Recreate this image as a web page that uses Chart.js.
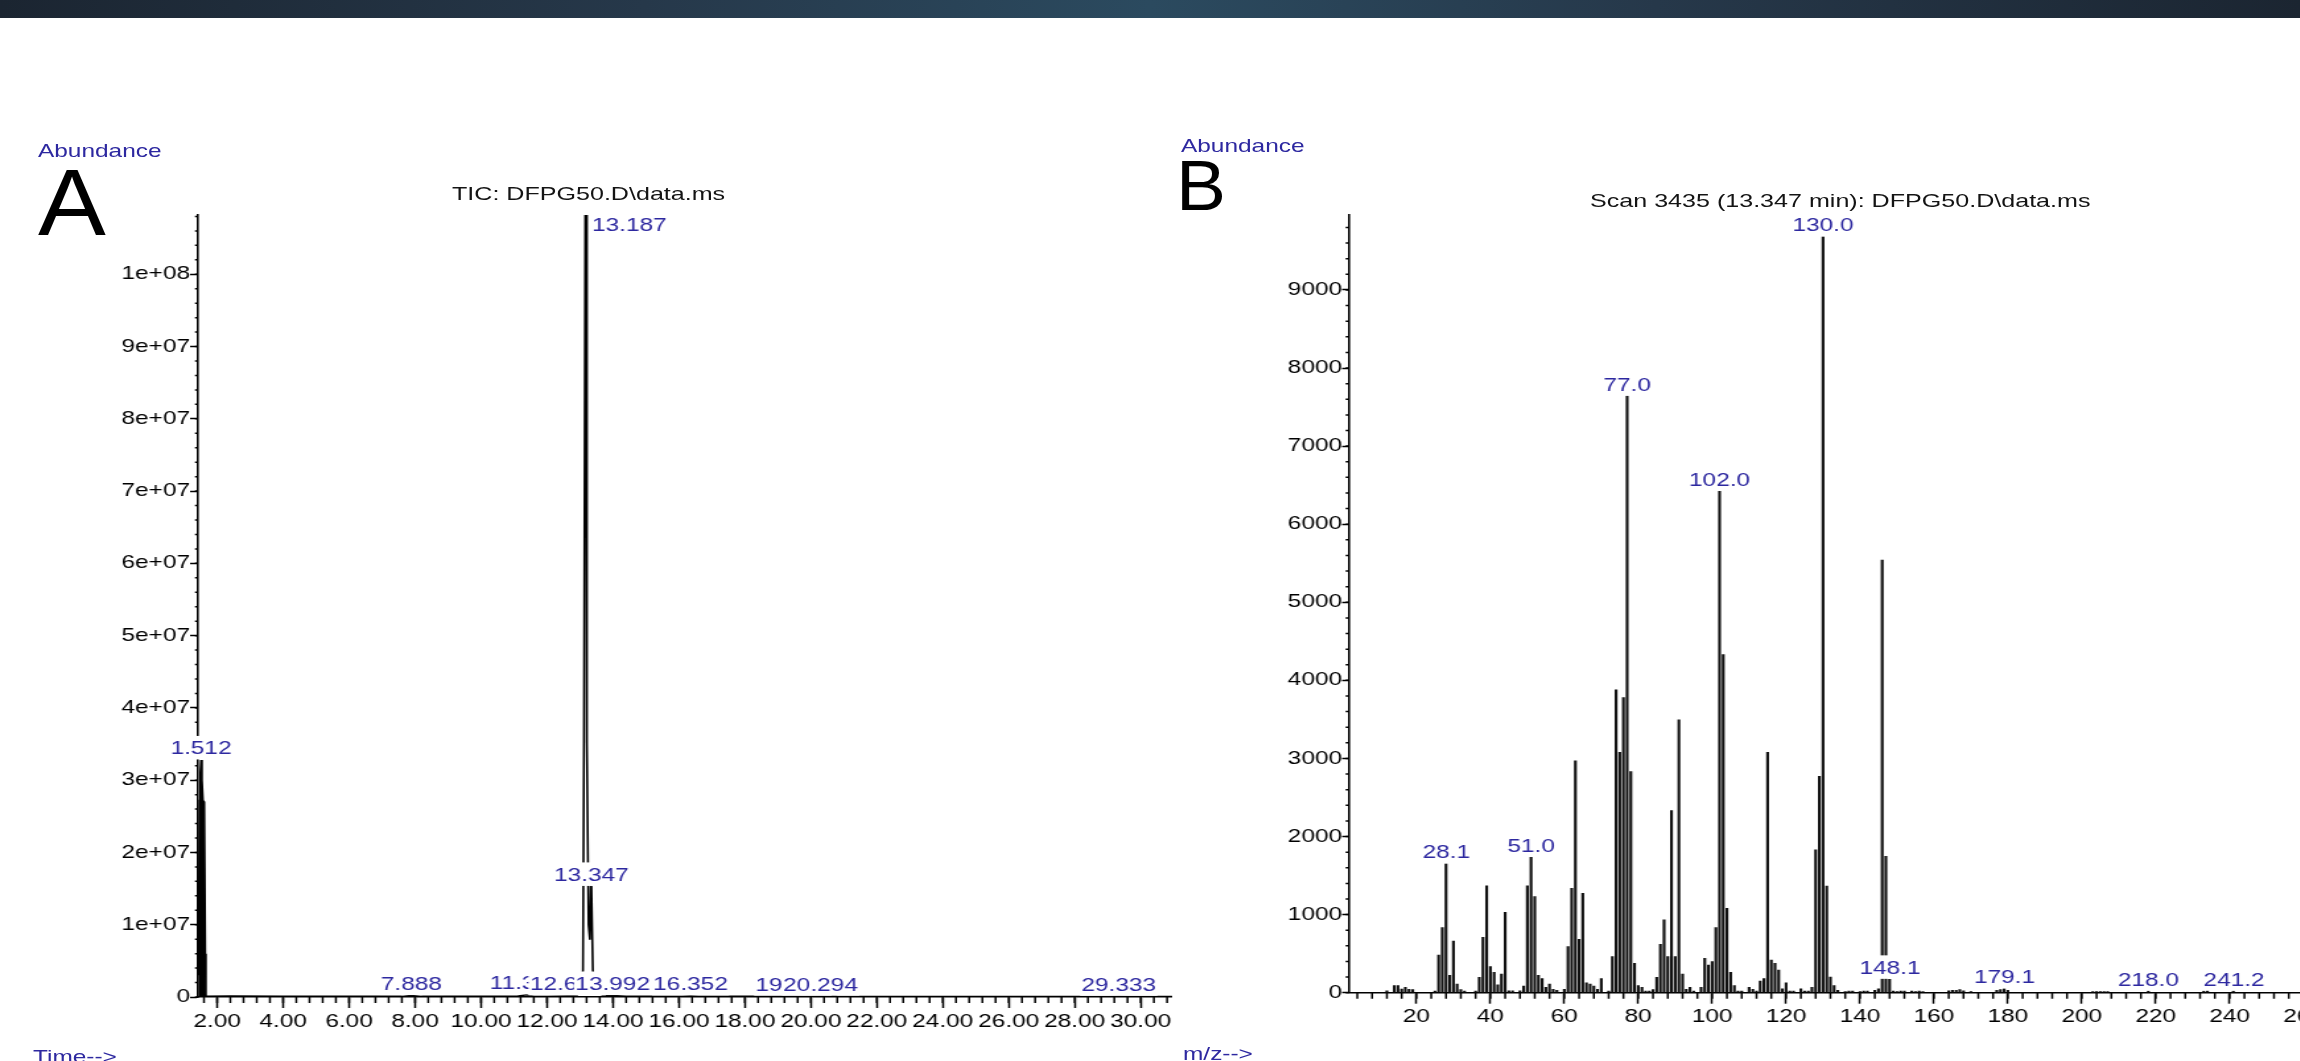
<!DOCTYPE html>
<html>
<head>
<meta charset="utf-8">
<title>TIC and mass spectrum DFPG50</title>
<script src="https://cdn.jsdelivr.net/npm/chart.js@4.4.0/dist/chart.umd.min.js"></script>
<style>
  html, body { margin: 0; padding: 0; background: #fff; }
  body { width: 2300px; height: 1061px; overflow: hidden; position: relative;
         font-family: "Liberation Sans", Arial, sans-serif; }
  .topbar { position: absolute; left: 0; top: 0; width: 2300px; height: 18px;
            background: linear-gradient(90deg, #1b2531 0%, #26384a 28%, #2b4a5f 50%, #26384a 72%, #1b2531 100%); }
  .panel { position: absolute; top: 0; height: 1061px; transform: scaleX(1.32); transform-origin: 0 0; }
  .txt { position: absolute; white-space: nowrap; line-height: 1; transform: scaleX(1.32); transform-origin: 0 0; }
  .blue { color: #2d28a0; font-size: 18.5px; }
  .title { color: #141414; font-size: 19px; }
  .big { position: absolute; line-height: 1; color: #000; transform: scaleX(1.07); transform-origin: 0 0; }
</style>
</head>
<body>
<div class="topbar"></div>

<div class="panel" style="left:0; width:909px;"><canvas id="tic" width="909" height="1061"></canvas></div>
<div class="panel" style="left:1150px; width:902px;"><canvas id="scan" width="902" height="1061"></canvas></div>

<div class="txt blue" style="left:38px; top:142px;">Abundance</div>
<div class="big" style="left:38px; top:155px; font-size:95px;">A</div>
<div class="txt title" style="left:452px; top:184px;">TIC: DFPG50.D\data.ms</div>
<div class="txt blue" style="left:33px; top:1048px;">Time--&gt;</div>

<div class="txt blue" style="left:1181px; top:137px;">Abundance</div>
<div class="big" style="left:1176px; top:151px; font-size:70px;">B</div>
<div class="txt title" style="left:1590px; top:191px;">Scan 3435 (13.347 min): DFPG50.D\data.ms</div>
<div class="txt blue" style="left:1183px; top:1045px;">m/z--&gt;</div>

<script>
'use strict';
//------------- panel A: total ion chromatogram
var ticSolventTime = [1.43, 1.47, 1.49, 1.512, 1.54, 1.57, 1.61, 1.64, 1.66];
var ticSolventAbund = [3.0e6, 2.72e7, 3.1e7, 3.28e7, 3.0e7, 2.72e7, 2.70e7, 6.0e6, 1.0e5];

var ticTime = [1.66, 2.4, 4.0, 6.0, 7.6, 7.888, 8.2, 10.0, 11.1, 11.369, 11.6, 12.0, 12.3,
    12.612, 12.9, 13.06, 13.09, 13.12, 13.16, 13.187, 13.21, 13.26, 13.30, 13.33, 13.347,
    13.39, 13.44, 13.7, 13.992, 14.4, 16.1, 16.352, 16.6, 19.0, 19.452, 19.8, 20.294,
    20.8, 25.0, 29.0, 29.333, 29.7, 30.95];
var ticAbund = [1.0e5, 1.2e5, 0.9e5, 0.8e5, 0.8e5, 2.0e5, 0.8e5, 0.8e5, 1.0e5, 3.0e5, 1.0e5, 1.0e5, 1.2e5,
    1.5e5, 1.5e5, 2.0e6, 3.7e6, 3.5e7, 1.085e8, 1.085e8, 3.52e7, 1.0e7, 0.8e7, 1.53e7, 1.53e7,
    3.7e6, 1.0e6, 2.0e5, 2.0e5, 1.0e5, 1.0e5, 1.5e5, 1.0e5, 0.8e5, 1.2e5, 0.8e5, 1.3e5,
    0.8e5, 0.7e5, 0.7e5, 1.0e5, 0.7e5, 0.7e5];

var ticPeakLabels = ['1.512', '7.888', '11.369', '12.612', '13.187', '13.347', '13.992',
    '16.352', '19.452', '20.294', '29.333'];
var ticXTicks = [2, 4, 6, 8, 10, 12, 14, 16, 18, 20, 22, 24, 26, 28, 30];
var ticYTicks = [0, 1e7, 2e7, 3e7, 4e7, 5e7, 6e7, 7e7, 8e7, 9e7, 1e8];

//------------- panel B: mass spectrum of scan 3435
var msMz = [12, 14, 15, 16, 17, 18, 19, 25, 26, 27, 28, 29, 30, 31, 32, 33,
    36, 37, 38, 39, 40, 41, 42, 43, 44, 45, 46, 48, 49, 50, 51, 52, 53, 54, 55, 56, 57, 58,
    60, 61, 62, 63, 64, 65, 66, 67, 68, 69, 70, 72, 73, 74, 75, 76, 77, 78, 79, 80, 81, 82, 83,
    84, 85, 86, 87, 88, 89, 90, 91, 92, 93, 94, 95, 97, 98, 99, 100, 101, 102, 103, 104, 105,
    106, 107, 108, 110, 111, 112, 113, 114, 115, 116, 117, 118, 119, 120, 121, 122, 124, 125,
    126, 127, 128, 129, 130, 131, 132, 133, 134, 136, 137, 138, 140, 141, 142, 144, 145, 146,
    147, 148, 149, 150, 151, 152, 154, 155, 156, 157, 164, 165, 166, 167, 168, 170, 177, 178,
    179, 180, 203, 204, 205, 206, 207, 218, 233, 234, 241];
var msAbund = [25, 90, 90, 47, 68, 43, 40, 20, 483, 833, 1650, 222, 662, 110, 40, 20,
    20, 197, 709, 1368, 333, 260, 100, 240, 1030, 25, 25, 25, 85, 1368, 1735, 1230, 222, 180, 68, 111, 43, 30,
    43, 590, 1338, 2970, 684, 1274, 128, 111, 85, 43, 180, 20, 462, 3880, 3077, 3780, 7640, 2833, 376, 90, 68, 20, 20,
    40, 197, 620, 932, 462, 2333, 462, 3496, 239, 43, 68, 20, 68, 440, 355, 397, 833, 6420, 4330, 1081, 260,
    90, 20, 20, 68, 43, 20, 150, 180, 3077, 419, 376, 290, 51, 128, 20, 20, 51, 20,
    20, 68, 1830, 2770, 9680, 1365, 200, 92, 30, 15, 20, 20, 15, 20, 20, 30, 51, 5540,
    1745, 171, 20, 15, 20, 20, 20, 15, 20, 15, 25, 30, 30, 40, 25, 15, 30, 40,
    50, 30, 15, 15, 15, 15, 15, 20, 20, 25, 20];

var msPeakLabels = ['28.1', '51.0', '77.0', '102.0', '130.0', '148.1', '179.1', '218.0', '241.2'];
var msXTicks = [20, 40, 60, 80, 100, 120, 140, 160, 180, 200, 220, 240, 260];
var msYTicks = [0, 1000, 2000, 3000, 4000, 5000, 6000, 7000, 8000, 9000];

var FONT = "'Liberation Sans', Arial, sans-serif";
var LABEL_BLUE = '#2d28a0';

function sci(v) {
    if (v === 0) { return '0'; }
    var e = Math.floor(Math.log10(v) + 1e-9);
    var m = Math.round(v / Math.pow(10, e));
    return m + 'e+' + (e < 10 ? '0' : '') + e;
}

function nearest(times, vals, t) {
    var best = 0;
    for (var i = 1; i < times.length; i++) {
        if (Math.abs(times[i] - t) < Math.abs(times[best] - t)) { best = i; }
    }
    return vals[best];
}

// small ticks between the labelled ones
var minorTicks = {
    id: 'minorTicks',
    beforeDatasetsDraw: function (chart, args, opts) {
        var ctx = chart.ctx, xs = chart.scales.x, ys = chart.scales.y, i, p;
        ctx.save();
        ctx.strokeStyle = '#000';
        ctx.lineWidth = 1.5;
        ctx.beginPath();
        for (i = Math.ceil(xs.min / opts.x - 1e-9); i * opts.x <= xs.max + 1e-9; i++) {
            p = xs.getPixelForValue(i * opts.x);
            ctx.moveTo(p, ys.bottom);
            ctx.lineTo(p, ys.bottom + opts.xLen);
        }
        for (i = Math.ceil(ys.min / opts.y - 1e-9); i * opts.y <= ys.max + 1e-9; i++) {
            p = ys.getPixelForValue(i * opts.y);
            ctx.moveTo(xs.left, p);
            ctx.lineTo(xs.left - opts.yLen, p);
        }
        ctx.stroke();
        ctx.restore();
    }
};

// blue peak labels on white boxes, later ones cover earlier ones
var peakLabels = {
    id: 'peakLabels',
    afterDatasetsDraw: function (chart, args, opts) {
        var ctx = chart.ctx, xs = chart.scales.x, ys = chart.scales.y;
        ctx.save();
        ctx.font = '18.5px ' + FONT;
        ctx.textBaseline = 'alphabetic';
        ctx.textAlign = 'left';
        opts.items.forEach(function (it) {
            var px = xs.getPixelForValue(it.at);
            var w = ctx.measureText(it.text).width;
            var tx, base;
            if (it.height >= ys.max) {
                tx = px + 4.5;
                base = chart.chartArea.top + 16;
            } else {
                tx = px - w / 2;
                base = ys.getPixelForValue(it.height) - 5.5;
            }
            ctx.fillStyle = '#fff';
            ctx.fillRect(tx - 1, base - 18.5, w + 2, 23.5);
            ctx.fillStyle = LABEL_BLUE;
            ctx.fillText(it.text, tx, base);
        });
        ctx.restore();
    }
};

function axisX(min, max, ticks, fmt, height, pad) {
    return {
        type: 'linear', min: min, max: max, offset: false,
        afterBuildTicks: function (s) { s.ticks = ticks.map(function (v) { return {value: v}; }); },
        afterFit: function (s) { s.height = height; },
        ticks: {callback: fmt, color: '#000', font: {family: FONT, size: 18.5}, padding: pad,
            maxRotation: 0, minRotation: 0, autoSkip: false},
        grid: {offset: false, drawOnChartArea: false, drawTicks: true, tickLength: 11,
            tickWidth: 1.5, tickColor: '#000'},
        border: {display: true, color: '#000', width: 1.6}
    };
}

function axisY(max, ticks, fmt, width, tl) {
    return {
        type: 'linear', min: 0, max: max,
        afterBuildTicks: function (s) { s.ticks = ticks.map(function (v) { return {value: v}; }); },
        afterFit: function (s) { s.width = width; },
        ticks: {callback: fmt, color: '#000', font: {family: FONT, size: 18.5}, padding: 0, autoSkip: false},
        grid: {drawOnChartArea: false, drawTicks: true, tickLength: tl, tickWidth: 1.5, tickColor: '#000'},
        border: {display: true, color: '#000', width: 1.6}
    };
}

var ticLabelItems = ticPeakLabels.map(function (s) {
    var t = parseFloat(s);
    var h = t < 1.7 ? nearest(ticSolventTime, ticSolventAbund, t) : nearest(ticTime, ticAbund, t);
    return {text: s, at: t, height: h};
});

var msLabelItems = msPeakLabels.map(function (s) {
    var m = parseFloat(s);
    return {text: s, at: m, height: nearest(msMz, msAbund, Math.round(m))};
});

var tic = {
    type: 'line',
    data: {
        datasets: [{
            data: ticSolventTime.map(function (t, i) { return {x: t, y: ticSolventAbund[i]}; }),
            borderColor: '#000', backgroundColor: '#000', borderWidth: 1.5,
            fill: 'origin', pointRadius: 0, tension: 0
        }, {
            data: ticTime.map(function (t, i) { return {x: t, y: ticAbund[i]}; }),
            borderColor: '#000', borderWidth: 1.6, borderJoinStyle: 'round',
            fill: false, pointRadius: 0, tension: 0
        }]
    },
    options: {
        responsive: false, animation: false, devicePixelRatio: 1,
        layout: {padding: {left: 0, right: 21.1, top: 215, bottom: 0}},
        plugins: {
            legend: {display: false}, tooltip: {enabled: false},
            minorTicks: {x: 0.4, y: 2e6, xLen: 6, yLen: 2.3},
            peakLabels: {items: ticLabelItems}
        },
        scales: {
            x: axisX(1.42, 30.95, ticXTicks, function (v) { return v.toFixed(2); }, 64, 2.4),
            y: axisY(1.082e8, ticYTicks, sci, 150, 6)
        }
    },
    plugins: [minorTicks, peakLabels]
};

var scan = {
    type: 'bar',
    data: {
        datasets: [{
            data: msMz.map(function (m, i) { return {x: m, y: msAbund[i]}; }),
            backgroundColor: '#111', borderWidth: 0, barThickness: 1.5, grouped: false
        }]
    },
    options: {
        responsive: false, animation: false, devicePixelRatio: 1,
        layout: {padding: {left: 0, right: 11.3, top: 215, bottom: 0}},
        plugins: {
            legend: {display: false}, tooltip: {enabled: false},
            minorTicks: {x: 4, y: 200, xLen: 6, yLen: 2.3},
            peakLabels: {items: msLabelItems}
        },
        scales: {
            x: axisX(1.66, 266, msXTicks, function (v) { return String(v); }, 68.3, 1.7),
            y: axisY(9960, msYTicks, function (v) { return String(v); }, 150.5, 5)
        }
    },
    plugins: [minorTicks, peakLabels]
};

window.onload = function () {
    window.ticChart = new Chart(document.getElementById('tic').getContext('2d'), tic);
    window.scanChart = new Chart(document.getElementById('scan').getContext('2d'), scan);
};
</script>
</body>
</html>
